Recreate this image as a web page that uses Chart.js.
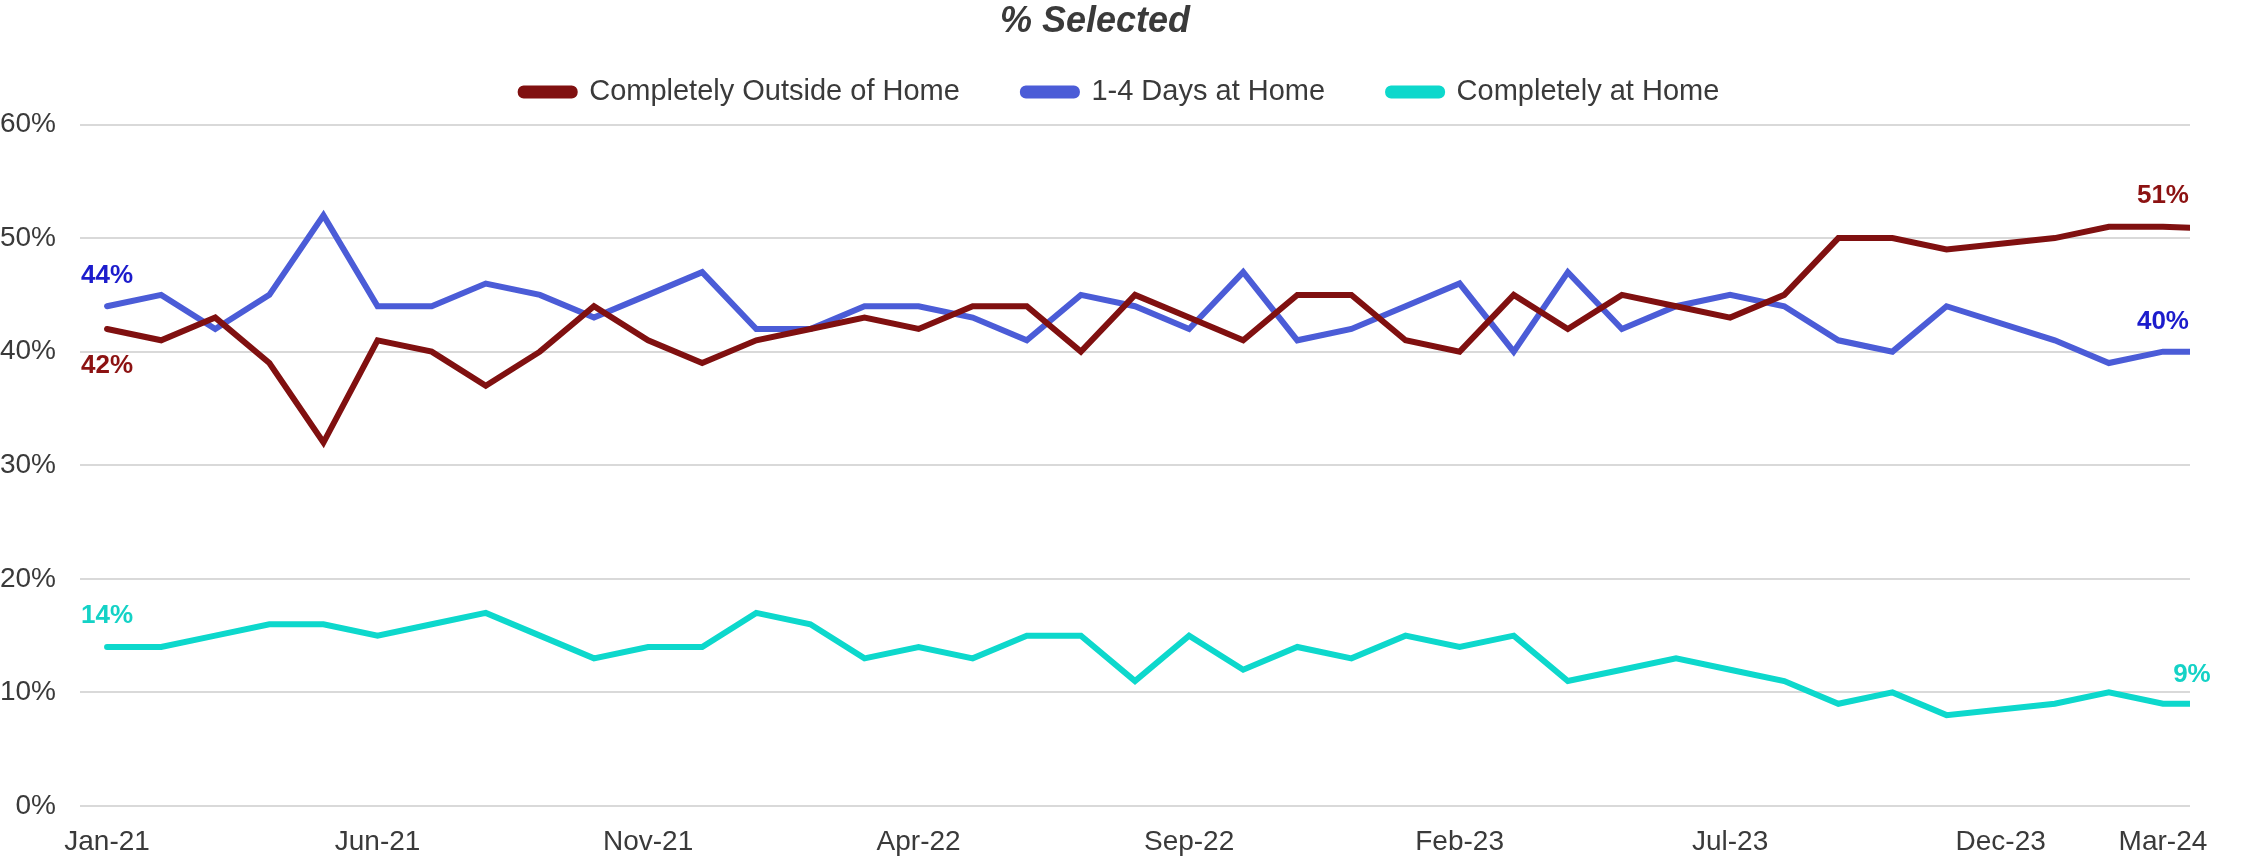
<!DOCTYPE html>
<html>
<head>
<meta charset="utf-8">
<script src="https://cdn.jsdelivr.net/npm/chart.js@4.4.1/dist/chart.umd.min.js"></script>
<style>
  html, body { margin: 0; padding: 0; background: #fff; }
  #wrap { width: 2254px; height: 857px; }
</style>
</head>
<body>
<div id="wrap"><canvas id="selectedChart"></canvas></div>
<script>
// months on the axis
const months = [
  'Jan-21', 'Feb-21', 'Mar-21', 'Apr-21', 'May-21', 'Jun-21', 'Jul-21', 'Aug-21', 'Sep-21', 'Oct-21', 'Nov-21', 'Dec-21',
  'Jan-22', 'Feb-22', 'Mar-22', 'Apr-22', 'May-22', 'Jun-22', 'Jul-22', 'Aug-22', 'Sep-22', 'Oct-22', 'Nov-22', 'Dec-22',
  'Jan-23', 'Feb-23', 'Mar-23', 'Apr-23', 'May-23', 'Jun-23', 'Jul-23', 'Aug-23', 'Sep-23', 'Oct-23', 'Nov-23', 'Dec-23',
  'Jan-24', 'Feb-24', 'Mar-24'
];
// which months get a label under the axis
const tickMonths = ['Jan-21', 'Jun-21', 'Nov-21', 'Apr-22', 'Sep-22', 'Feb-23', 'Jul-23', 'Dec-23', 'Mar-24'];

// % selected (last value sits past Mar-24, the line just runs off the edge)
const outsideHome = [42, 41, 43, 39, 32, 41, 40, 37, 40, 44, 41, 39,
  41, 42, 43, 42, 44, 44, 40, 45, 43, 41, 45, 45,
  41, 40, 45, 42, 45, 44, 43, 45, 50, 50, 49, null,
  50, 51, 51, 50.8];
const daysAtHome = [44, 45, 42, 45, 52, 44, 44, 46, 45, 43, 45, 47,
  42, 42, 44, 44, 43, 41, 45, 44, 42, 47, 41, 42,
  44, 46, 40, 47, 42, 44, 45, 44, 41, 40, 44, null,
  41, 39, 40, 40];
const atHome = [14, 14, 15, 16, 16, 15, 16, 17, 15, 13, 14, 14,
  17, 16, 13, 14, 13, 15, 15, 11, 15, 12, 14, 13,
  15, 14, 15, 11, 12, 13, 12, 11, 9, 10, 8, null,
  9, 10, 9, 9];

const yTicks = [0, 10, 20, 30, 40, 50, 60];

const FONT = '"Liberation Sans", Arial, sans-serif';
const TEXT = '#3a3a3a';

// first / last value labels
const endLabels = {
  id: 'endLabels',
  afterDatasetsDraw(chart) {
    const ctx = chart.ctx;
    const last = months.length - 1;
    const spec = [
      { ds: 0, idx: 0, dy: 44, dx: 0, color: '#8c1212' },
      { ds: 0, idx: last, dy: -24, dx: 0, color: '#8c1212' },
      { ds: 1, idx: 0, dy: -23, dx: 0, color: '#1c1ccc' },
      { ds: 1, idx: last, dy: -23, dx: 0, color: '#1c1ccc' },
      { ds: 2, idx: 0, dy: -24, dx: 0, color: '#14d2c6' },
      { ds: 2, idx: last, dy: -22, dx: 29, color: '#14d2c6' }
    ];
    ctx.save();
    ctx.font = 'bold 26px ' + FONT;
    ctx.textAlign = 'center';
    ctx.textBaseline = 'alphabetic';
    spec.forEach(s => {
      const pt = chart.getDatasetMeta(s.ds).data[s.idx];
      const v = chart.data.datasets[s.ds].data[s.idx].y;
      ctx.fillStyle = s.color;
      ctx.fillText(Math.round(v) + '%', pt.x + s.dx, pt.y + s.dy);
    });
    ctx.restore();
  }
};

// more room under the legend, and nudge it right a little
const legendTweak = {
  id: 'legendTweak',
  beforeLayout(chart) {
    const lg = chart.legend;
    if (lg && !lg._spaced) {
      const fit = lg.fit;
      lg.fit = function () { fit.call(this); this.height += 8; };
      lg._spaced = true;
    }
  },
  afterLayout(chart) {
    const lg = chart.legend;
    lg.left += 25;
    lg.right += 25;
  }
};

const line = (label, values, color) => ({
  label: label,
  data: values.map((v, i) => ({ x: i, y: v })),
  borderColor: color,
  backgroundColor: color,
  borderWidth: 6,
  pointRadius: 0,
  tension: 0,
  spanGaps: true,
  borderCapStyle: 'round'
});

const ctx = document.getElementById('selectedChart').getContext('2d');
new Chart(ctx, {
  type: 'line',
  data: {
    datasets: [
      line('Completely Outside of Home', outsideHome, '#801010'),
      line('1-4 Days at Home', daysAtHome, '#4b5cd7'),
      line('Completely at Home', atHome, '#0dd8cc')
    ]
  },
  options: {
    responsive: true,
    maintainAspectRatio: false,
    animation: false,
    layout: { padding: { left: 0, right: 64, top: 0, bottom: 0 } },
    plugins: {
      title: {
        display: true,
        text: '% Selected',
        color: TEXT,
        font: { family: FONT, size: 36, weight: 'bold', style: 'italic', lineHeight: 1.2 },
        padding: { top: 0, bottom: -28.7 }
      },
      legend: {
        display: true,
        labels: {
          color: TEXT,
          font: { family: FONT, size: 29 },
          boxWidth: 54,
          boxHeight: 7,
          useBorderRadius: true,
          borderRadius: 3,
          padding: 63
        }
      },
      tooltip: { enabled: false }
    },
    scales: {
      x: {
        type: 'linear',
        // half a month of room either side, like category bands
        min: -0.5,
        max: months.length - 0.5,
        grid: { display: false, drawTicks: false },
        border: { display: false },
        afterBuildTicks: axis => {
          axis.ticks = tickMonths.map(m => ({ value: months.indexOf(m) }));
        },
        afterFit: axis => { axis.height = 51; },
        ticks: {
          autoSkip: false,
          maxRotation: 0,
          padding: 22,
          color: TEXT,
          font: { family: FONT, size: 28, lineHeight: 1 },
          callback: v => months[v]
        }
      },
      y: {
        min: yTicks[0],
        max: yTicks[yTicks.length - 1],
        grid: { color: '#d9d9d9', lineWidth: 2, drawTicks: false },
        border: { display: false },
        afterBuildTicks: axis => { axis.ticks = yTicks.map(v => ({ value: v })); },
        afterFit: axis => { axis.width = 80; },
        ticks: {
          padding: 24,
          color: TEXT,
          font: { family: FONT, size: 28 },
          callback: v => v + '%'
        }
      }
    }
  },
  plugins: [endLabels, legendTweak]
});
</script>
</body>
</html>
